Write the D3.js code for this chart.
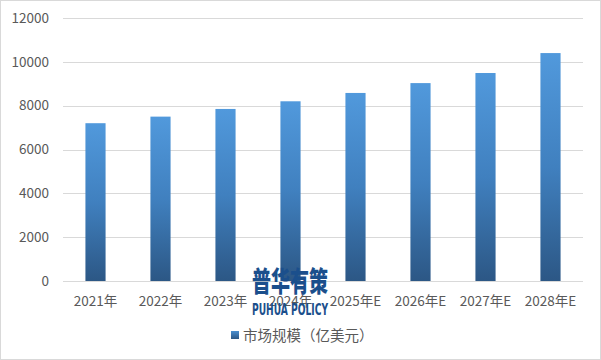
<!DOCTYPE html>
<html><head><meta charset="utf-8">
<script src="https://cdn.jsdelivr.net/npm/d3@7"></script>
<style>body{margin:0;background:#fff}svg{display:block}</style>
</head><body>
<script>
const categories = ["2021年","2022年","2023年","2024年","2025年E","2026年E","2027年E","2028年E"];
const values = [7200, 7500, 7850, 8200, 8580, 9030, 9490, 10400];
const yTicks = [0, 2000, 4000, 6000, 8000, 10000, 12000];
const seriesName = "市场规模（亿美元）";

const W = 601, H = 360;
const svg = d3.select("body").append("svg").attr("width", W).attr("height", H);
const font = "'Noto Sans CJK SC','DejaVu Sans',sans-serif";

const defs = svg.append("defs");
const grad = defs.append("linearGradient").attr("id","barGrad").attr("x1",0).attr("y1",0).attr("x2",0).attr("y2",1);
grad.append("stop").attr("offset","0%").attr("stop-color","#5199dc");
grad.append("stop").attr("offset","50%").attr("stop-color","#4080bf");
grad.append("stop").attr("offset","100%").attr("stop-color","#2c5785");
const lgGrad = defs.append("linearGradient").attr("id","legGrad").attr("x1",0).attr("y1",0).attr("x2",0).attr("y2",1);
lgGrad.append("stop").attr("offset","0%").attr("stop-color","#4a8fd0");
lgGrad.append("stop").attr("offset","100%").attr("stop-color","#2c5785");

svg.append("rect").attr("x",0.5).attr("y",0.5).attr("width",W-1).attr("height",H-1)
  .attr("fill","#fff").attr("stroke","#d9d9d9");

const x = d3.scaleBand().domain(categories).range([63, 583]).paddingInner(0.69).paddingOuter(0.345);
const y = d3.scaleLinear().domain([0, 12000]).range([281, 18]);

// gridlines
svg.append("g").selectAll("line").data(yTicks).join("line")
  .attr("x1",63).attr("x2",583).attr("y1",d=>Math.round(y(d))+0.5).attr("y2",d=>Math.round(y(d))+0.5)
  .attr("stroke","#d9d9d9").attr("stroke-width",1);

// y axis labels
const yAxis = d3.axisLeft(y).tickValues(yTicks).tickFormat(d3.format("d")).tickSize(0).tickPadding(0);
const gy = svg.append("g").attr("transform","translate(49,0)").call(yAxis);
gy.select(".domain").remove();
gy.selectAll("text").attr("font-family",font).attr("font-size",13.5).attr("fill","#595959");

// bars
svg.append("g").selectAll("rect").data(values).join("rect")
  .attr("x",(d,i)=>x(categories[i])).attr("width",x.bandwidth())
  .attr("y",d=>y(d)).attr("height",d=>y(0)-y(d)).attr("fill","url(#barGrad)");

// x axis labels
const xAxis = d3.axisBottom(x).tickSize(0).tickPadding(15);
const gx = svg.append("g").attr("transform","translate(0,281)").call(xAxis);
gx.select(".domain").remove();
gx.selectAll("text").attr("font-family",font).attr("font-size",13.5).attr("fill","#595959");

// watermark
svg.append("text").attr("x",290).attr("y",292).attr("text-anchor","middle")
  .attr("font-family","'Noto Sans CJK SC',sans-serif").attr("font-weight","900").attr("font-size",28)
  .attr("fill","#1b4f8c").attr("textLength",76).attr("lengthAdjust","spacingAndGlyphs").text("普华有策");
svg.append("text").attr("x",290).attr("y",315).attr("text-anchor","middle")
  .attr("font-family","'DejaVu Sans Condensed','Liberation Sans Narrow',sans-serif").attr("font-weight","bold").attr("font-size",15)
  .attr("fill","#1b4f8c").attr("textLength",76).attr("lengthAdjust","spacingAndGlyphs").text("PUHUA POLICY");

// legend
const lg = svg.append("g");
lg.append("rect").attr("x",231).attr("y",331).attr("width",8).attr("height",8).attr("fill","url(#legGrad)");
lg.append("text").attr("x",243).attr("y",341).attr("font-family",font).attr("font-size",14.5).attr("fill","#595959").text(seriesName);
</script>
</body></html>
